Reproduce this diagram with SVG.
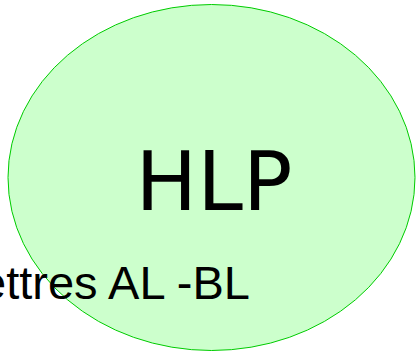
<svg xmlns="http://www.w3.org/2000/svg" width="416" height="354" viewBox="0 0 416 354">
<style>
.node{fill:#CCFFCC;stroke:#00CC00;stroke-width:1}
.big{font-family:"DejaVu Sans",sans-serif;font-size:82px;fill:#000}
.lbl{font-family:"Liberation Sans",Arial,sans-serif;font-size:47px;fill:#000}
</style>
<rect width="416" height="354" fill="#fff"/>
<g id="hlp">
<ellipse class="node" cx="211.5" cy="177.5" rx="203.5" ry="173"/>
<text class="big" x="214" y="210" text-anchor="middle">HLP</text>
</g>
<g id="label">
<text class="lbl" x="250" y="299" text-anchor="end">Lettres AL -BL</text>
</g>
<g id="connectors"/>
</svg>
